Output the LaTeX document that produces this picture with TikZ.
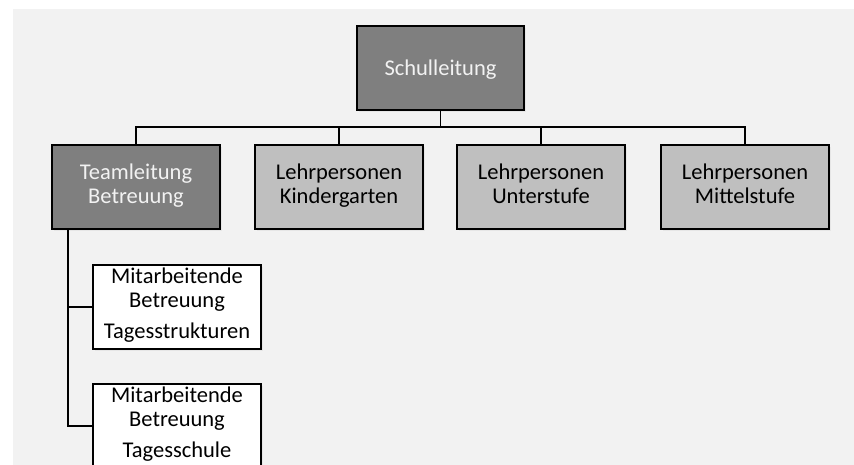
\documentclass[tikz,border=0pt]{standalone}
\usepackage{fontspec}
\setmainfont{Carlito}
\usetikzlibrary{shadows}

\definecolor{Hintergrund}{HTML}{F2F2F2}
\definecolor{Leitung}{HTML}{7F7F7F}
\definecolor{Lehrer}{HTML}{BFBFBF}
\definecolor{LeitungText}{HTML}{F2F2F2}

\tikzset{
  box/.style={draw=black, line width=1.6pt, minimum width=168pt, minimum height=84pt,
    inner sep=0pt, align=center, font=\fontsize{22.5}{24}\selectfont,
    execute at begin node=\rule{0pt}{22pt}, execute at end node=\strut,
    drop shadow={opacity=0.10, shadow xshift=2pt, shadow yshift=-2pt}},
  leitung/.style={box, fill=Leitung, text=LeitungText},
  lehrer/.style={box, fill=Lehrer, text=black},
  mitarbeit/.style={box, fill=white, text=black},
  linie/.style={draw=black, line width=1.6pt},
}

\begin{document}
\begin{tikzpicture}[x=1pt,y=-1pt]

\clip (0,0) rectangle (854,465);
\fill[white] (0,0) rectangle (854,465);
\fill[Hintergrund] (13,9) rectangle (854,465);

% Kaestchen
\node[leitung, minimum width=167pt] (schul) at (440.5,68) {Schulleitung};

\node[leitung] (team) at (136,187) {Teamleitung\\Betreuung};
\node[lehrer] (kiga) at (339,187) {Lehrpersonen\\Kindergarten};
\node[lehrer] (unter) at (541,187) {Lehrpersonen\\Unterstufe};
\node[lehrer] (mittel) at (745,187) {Lehrpersonen\\Mittelstufe};

\node[mitarbeit] (tages) at (177,306.7) {Mitarbeitende\\Betreuung\\[7pt]Tagesstrukturen};
\node[mitarbeit] (schule) at (177,425.7) {Mitarbeitende\\Betreuung\\[7pt]Tagesschule};

% Verbindungen
\coordinate (S) at (440.5,127);
\coordinate (T) at (67.7,229);

\draw[linie] (schul.south) -- (S);
\foreach \n in {team,kiga,unter,mittel}
  \draw[linie] (S) -| (\n.north);

\draw[linie] (T) |- (tages.west);
\draw[linie] (T) |- (schule.west);

\end{tikzpicture}
\end{document}
